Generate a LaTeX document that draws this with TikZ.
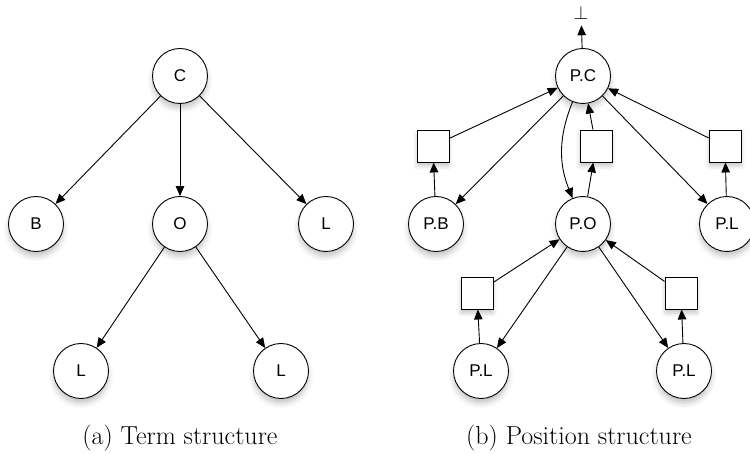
\documentclass[tikz,border=0pt]{standalone}
\usepackage{fontspec}
\newfontfamily\labelfont{Liberation Sans}
\usetikzlibrary{arrows.meta,shadows.blur}
\begin{document}
\begin{tikzpicture}[x=1pt,y=-1pt,
  every node/.style={font=\labelfont\fontsize{17}{20}\selectfont},
  term/.style={circle,draw,line width=0.9pt,fill=white,minimum size=55pt,inner sep=0pt,
    blur shadow={shadow xshift=0pt,shadow yshift=-5pt,shadow opacity=22,shadow blur radius=5pt}},
  hole/.style={rectangle,draw,line width=0.9pt,fill=white,minimum size=32pt,inner sep=0pt,
    blur shadow={shadow xshift=0pt,shadow yshift=-4pt,shadow opacity=22,shadow blur radius=4pt}},
  link/.style={line width=0.9pt,-{Triangle[length=10pt,width=8.5pt]}},
  caption/.style={font=\rmfamily\fontsize{26}{30}\selectfont}]
\useasboundingbox (0,0) rectangle (750,454);

% (a) term structure
\node[term] (c)  at (180,76)  {C};
\node[term] (b)  at (36,224)  {B};
\node[term] (o)  at (180,224) {O};
\node[term] (l1) at (326,224) {L};
\node[term] (l2) at (81,371)  {L};
\node[term] (l3) at (281,371) {L};
\draw[link] (c) -- (b);
\draw[link] (c) -- (o);
\draw[link] (c) -- (l1);
\draw[link] (o) -- (l2);
\draw[link] (o) -- (l3);
\node[caption] (capa) at (180,438) {(a) Term structure};

% (b) position structure
\node[term] (pc)  at (583,76)  {P.C};
\node[term] (pb)  at (436,224) {P.B};
\node[term] (po)  at (583,224) {P.O};
\node[term] (pl1) at (727,224) {P.L};
\node[term] (pl2) at (481,371) {P.L};
\node[term] (pl3) at (684,371) {P.L};
\node[hole] (sb)  at (433,146) {};
\node[hole] (so)  at (596,146) {};
\node[hole] (sl1) at (725,146) {};
\node[hole] (sl2) at (477,293) {};
\node[hole] (sl3) at (681,293) {};
\node[inner sep=0pt,font=\normalsize] (bot) at (581,12.5) {\scalebox{1.9}{$\bot$}};

\draw[link,shorten >=6pt] (pc) -- (bot);
\draw[link] (sb) -- (pc);
\draw[link] (pc) -- (pb);
\draw[link] (pb) -- (sb);
\draw[link] (pc) to[bend right=22] (po);
\draw[link] (po) -- (so);
\draw[link] (so) -- (pc);
\draw[link] (sl1) -- (pc);
\draw[link] (pc) -- (pl1);
\draw[link] (pl1) -- (sl1);
\draw[link] (sl2) -- (po);
\draw[link] (po) -- (pl2);
\draw[link] (pl2) -- (sl2);
\draw[link] (sl3) -- (po);
\draw[link] (po) -- (pl3);
\draw[link] (pl3) -- (sl3);
\node[caption] (capb) at (579,438) {(b) Position structure};
\end{tikzpicture}
\end{document}
